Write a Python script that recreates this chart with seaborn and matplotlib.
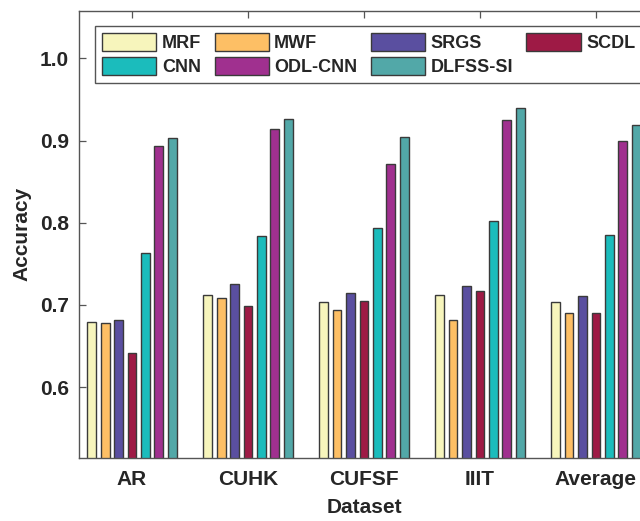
import matplotlib
matplotlib.use('Agg')
import numpy as np
import pandas as pd
import seaborn as sns
import matplotlib.pyplot as plt

datasets = ['AR', 'CUHK', 'CUFSF', 'IIIT', 'Average']
methods = ['MRF', 'MWF', 'SRGS', 'SCDL', 'CNN', 'ODL-CNN', 'DLFSS-SI']

# accuracy per method, one value per dataset
mrf = [0.679, 0.712, 0.704, 0.712, 0.703]
mwf = [0.678, 0.708, 0.694, 0.682, 0.690]
srgs = [0.681, 0.725, 0.714, 0.723, 0.711]
scdl = [0.641, 0.699, 0.705, 0.717, 0.690]
cnn = [0.763, 0.784, 0.793, 0.802, 0.785]
odl_cnn = [0.893, 0.914, 0.872, 0.925, 0.900]
dlfss_si = [0.903, 0.926, 0.904, 0.939, 0.919]

colors = ['#F7F5BC', '#FDBF65', '#5A4FA0', '#9E1A45', '#1BBCBC', '#A0308F', '#52A8A8']

rows = []
for m, vals in zip(methods, [mrf, mwf, srgs, scdl, cnn, odl_cnn, dlfss_si]):
    for d, v in zip(datasets, vals):
        rows.append({'Dataset': d, 'Method': m, 'Accuracy': v})
df = pd.DataFrame(rows)

sns.set_style('ticks')
plt.rcParams['font.family'] = ['Liberation Sans', 'DejaVu Sans']
plt.rcParams['font.weight'] = 'bold'
txt = '#262626'

fig = plt.figure(figsize=(6.4, 5.21), dpi=100)
ax = fig.add_axes([0.1227, 0.1215, 0.892, 0.858])

sns.barplot(data=df, x='Dataset', y='Accuracy', hue='Method', order=datasets,
            hue_order=methods, palette=colors, width=0.81, gap=0.35,
            edgecolor='#3a3a3a', linewidth=1.0, saturation=1, ax=ax)

ax.set_ylim(0.514, 1.058)
ax.set_xlim(-0.461, 4.461)
ax.set_yticks([0.6, 0.7, 0.8, 0.9, 1.0])
ax.set_yticklabels(['0.6', '0.7', '0.8', '0.9', '1.0'])
ax.tick_params(direction='in', top=True, right=True, length=5, width=0.9,
               color='#555555', labelsize=15, labelcolor=txt)
ax.tick_params(axis='y', pad=7)
ax.tick_params(axis='x', pad=9)
for lab in ax.get_xticklabels() + ax.get_yticklabels():
    lab.set_fontweight('bold')
for s in ax.spines.values():
    s.set_color('#555555')
    s.set_linewidth(1.0)

ax.set_ylabel('Accuracy', fontsize=15, fontweight='bold', color=txt, labelpad=6)
ax.set_xlabel('Dataset', fontsize=15, fontweight='bold', color=txt, labelpad=6)

# legend filled row by row (matplotlib fills columns)
handles, labels = ax.get_legend_handles_labels()
order = [0, 4, 1, 5, 2, 6, 3]
ax.legend([handles[i] for i in order], [labels[i] for i in order], ncol=4,
          loc='upper left', bbox_to_anchor=(95 / 640, 1 - 26 / 521),
          bbox_transform=fig.transFigure, frameon=True, fancybox=False,
          edgecolor='#555555', framealpha=1, prop={'size': 13, 'weight': 'bold'},
          handlelength=3.0, handleheight=1.1, handletextpad=0.3,
          columnspacing=0.75, borderpad=0.4, labelspacing=0.3,
          borderaxespad=0)

plt.savefig('out.png', dpi=100)
plt.close()
